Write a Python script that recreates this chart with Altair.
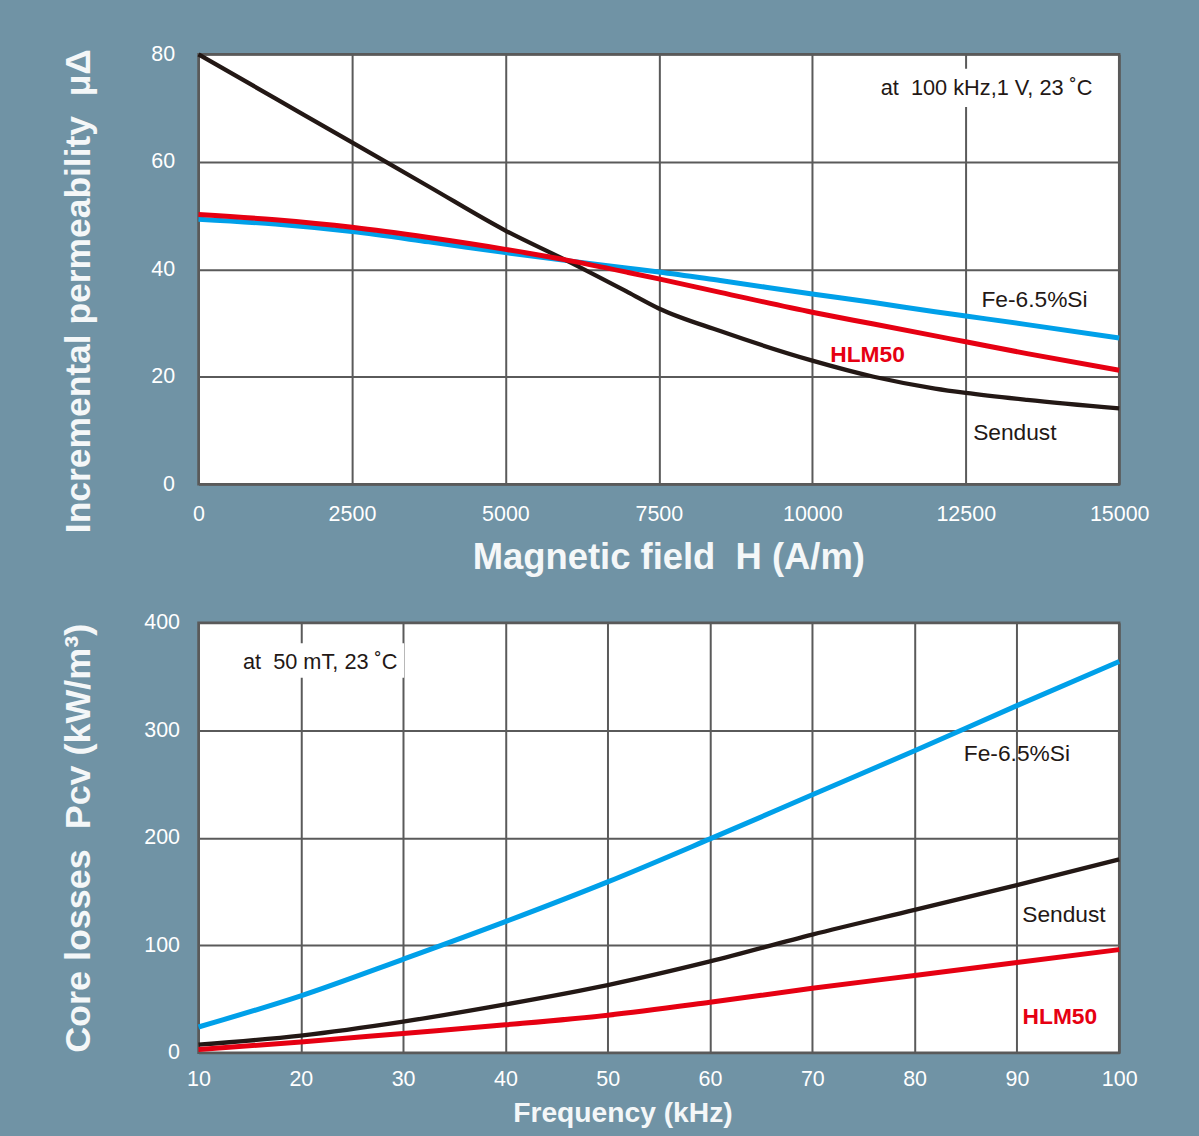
import altair as alt
import pandas as pd

# ---------------- data ----------------
# Top panel: incremental permeability vs magnetic field H (A/m)
H_FIELD = [0, 1250, 2500, 3750, 5000, 6000, 7000, 7500, 8500, 10000, 11000, 12000, 12500, 13500, 15000]
MU_FESI = [49.3, 48.4, 47.0, 45.1, 43.1, 41.6, 40.2, 39.5, 37.9, 35.4, 33.8, 32.1, 31.3, 29.7, 27.2]
MU_HLM50 = [50.2, 49.2, 47.8, 45.9, 43.7, 41.7, 39.4, 38.2, 35.7, 32.0, 29.8, 27.6, 26.5, 24.3, 21.2]
MU_SENDUST = [80.0, 71.8, 63.6, 55.4, 47.2, 41.6, 35.7, 32.7, 28.5, 23.0, 20.0, 17.8, 17.0, 15.7, 14.1]

# Bottom panel: core losses vs frequency (kHz)
FREQ = [10, 20, 30, 40, 50, 60, 70, 80, 90, 100]
PCV_FESI = [24, 53, 87, 122, 159, 199, 240, 281, 323, 364]
PCV_HLM50 = [3, 10, 18, 26, 35, 47, 60, 72, 84, 96]
PCV_SENDUST = [7.5, 16, 29, 45, 63, 85, 110, 133, 156, 180]

SERIES = ["Fe-6.5%Si", "Sendust", "HLM50"]  # drawing order (HLM50 on top)

H_TICKS = [0, 2500, 5000, 7500, 10000, 12500, 15000]
MU_TICKS = [0, 20, 40, 60, 80]
FREQ_TICKS = [10, 20, 30, 40, 50, 60, 70, 80, 90, 100]
PCV_TICKS = [0, 100, 200, 300, 400]

# series name labels (data coordinates), in SERIES order
TOP_LABEL_X = [13620, 13300, 10900]
TOP_LABEL_Y = [34.3, 9.6, 24.1]
BOT_LABEL_X = [90.0, 94.6, 94.2]
BOT_LABEL_Y = [278, 128, 33.4]

# condition notes
TOP_NOTE = "at\u00a0 100 kHz,1 V, 23 \u02daC"
TOP_NOTE_XY = [12840, 73.7]
TOP_NOTE_BOX = [11000, 14700, 70.2, 77.3]
BOT_NOTE = "at\u00a0 50 mT, 23 \u02daC"
BOT_NOTE_XY = [21.9, 363.8]
BOT_NOTE_BOX = [13.8, 30.1, 349, 381]

# ---------------- styles ----------------
COLORS = {"Fe-6.5%Si": "#00A0E9", "Sendust": "#231815", "HLM50": "#E60012"}
WIDTHS = {"Fe-6.5%Si": 5, "Sendust": 4.3, "HLM50": 5}
LABEL_COLORS = {"Fe-6.5%Si": "#231815", "Sendust": "#231815", "HLM50": "#E60012"}
LABEL_WEIGHT = {"Fe-6.5%Si": "normal", "Sendust": "normal", "HLM50": "bold"}
BG = "#7093A5"
GRID = "#5A5A5A"
FONT = "Liberation Sans"
TITLE_C = "#F4F7F8"
W, H = 923, 431


def panel(xs, ys_list, x_dom, y_dom, x_axis, y_axis, lab_x, lab_y, note, note_xy, box):
    xsc = alt.Scale(domain=x_dom, nice=False, zero=False)
    ysc = alt.Scale(domain=y_dom, nice=False, zero=False)
    X = lambda: alt.X("x:Q", scale=xsc, axis=x_axis)
    Y = lambda: alt.Y("y:Q", scale=ysc, axis=y_axis)
    layers = []
    # white box behind the condition note
    box_df = pd.DataFrame({"x": [box[0]], "x2": [box[1]], "y": [box[2]], "y2": [box[3]]})
    layers.append(
        alt.Chart(box_df).mark_rect(color="white").encode(
            x=X(), x2="x2:Q", y=Y(), y2="y2:Q",
        )
    )
    for name, ys in zip(SERIES, ys_list):
        df = pd.DataFrame({"x": xs, "y": ys})
        layers.append(
            alt.Chart(df).mark_line(
                color=COLORS[name], strokeWidth=WIDTHS[name], interpolate="monotone",
                strokeCap="butt"
            ).encode(x=X(), y=Y())
        )
    for name, lx, ly in zip(SERIES, lab_x, lab_y):
        tdf = pd.DataFrame({"x": [lx], "y": [ly], "t": [name]})
        layers.append(
            alt.Chart(tdf).mark_text(
                font=FONT, fontSize=22.8, fontWeight=LABEL_WEIGHT[name],
                color=LABEL_COLORS[name], align="center", baseline="middle"
            ).encode(x=X(), y=Y(), text="t:N")
        )
    ndf = pd.DataFrame({"x": [note_xy[0]], "y": [note_xy[1]], "t": [note]})
    layers.append(
        alt.Chart(ndf).mark_text(
            font=FONT, fontSize=21.8, color="#231815", align="center", baseline="middle"
        ).encode(x=X(), y=Y(), text="t:N")
    )
    return alt.layer(*layers).properties(width=W, height=H)


common = dict(
    grid=True, gridColor=GRID, gridWidth=2, gridOpacity=1,
    domain=False, ticks=False,
    labelColor="white", labelFont=FONT, labelFontSize=21.5,
    labelFlush=False, labelOverlap=False,
    titleColor=TITLE_C, titleFont=FONT, titleFontWeight="bold",
    titleBaseline="alphabetic",
)

top_x_axis = alt.Axis(
    values=H_TICKS, format="d", labelPadding=19,
    title="Magnetic field\u00a0 H (A/m)", titleFontSize=36.5, titleX=471, titleY=85,
    **common,
)
top_y_axis = alt.Axis(
    values=MU_TICKS, format="d", labelPadding=24,
    title="Incremental permeability\u00a0 \u03bc\u0394", titleFontSize=35.5,
    titleX=-109, titleY=237, titleAngle=270,
    **common,
)
bot_x_axis = alt.Axis(
    values=FREQ_TICKS, format="d", labelPadding=16,
    title="Frequency (kHz)", titleFontSize=28.3, titleX=425, titleY=69,
    **common,
)
bot_y_axis = alt.Axis(
    values=PCV_TICKS, format="d", labelPadding=19,
    title="Core losses\u00a0 Pcv (kW/m\u00b3)", titleFontSize=36,
    titleX=-109, titleY=215.5, titleAngle=270,
    **common,
)

top = panel(H_FIELD, [MU_FESI, MU_SENDUST, MU_HLM50], [0, 15000], [0, 80],
            top_x_axis, top_y_axis, TOP_LABEL_X, TOP_LABEL_Y,
            TOP_NOTE, TOP_NOTE_XY, TOP_NOTE_BOX)
bottom = panel(FREQ, [PCV_FESI, PCV_SENDUST, PCV_HLM50], [10, 100], [0, 400],
               bot_x_axis, bot_y_axis, BOT_LABEL_X, BOT_LABEL_Y,
               BOT_NOTE, BOT_NOTE_XY, BOT_NOTE_BOX)

chart = alt.vconcat(top, bottom, spacing=32).configure(
    background=BG,
    padding={"left": 59, "top": 40, "right": 48, "bottom": 8},
).configure_view(
    stroke=GRID, strokeWidth=2.5, fill="white"
)

chart.save("out.html", embed_options={"renderer": "svg", "actions": False})
